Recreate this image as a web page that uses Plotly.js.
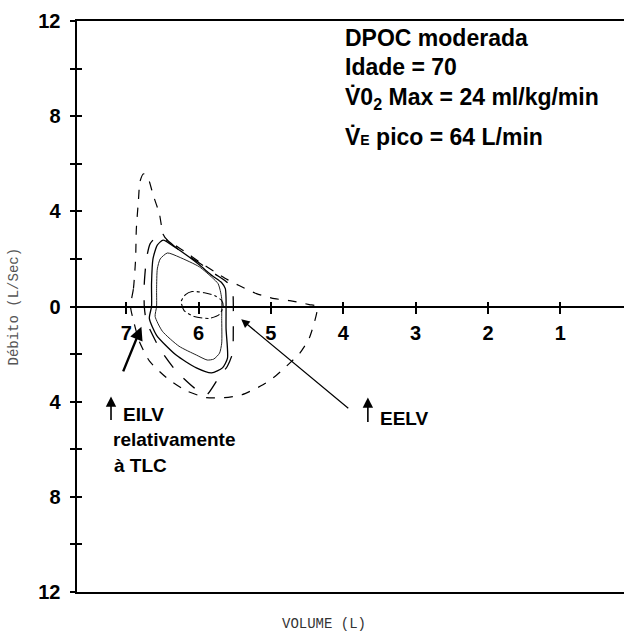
<!DOCTYPE html>
<html>
<head>
<meta charset="utf-8">
<script src="https://cdn.plot.ly/plotly-3.0.1.min.js"></script>
<style>html,body{margin:0;padding:0;background:#fff;}</style>
</head>
<body>
<div id="chart" style="width:624px;height:634px;"></div>
<script>
// ---- data (volume in L, flow in L/s; positive = expiration) ----
const envelopeVol  = [6.94,6.90,6.87,6.86,6.83,6.81,6.76,6.69,6.63,6.54,6.49,6.43,6.20,5.99,5.78,5.60,5.44,5.20,4.95,4.74,4.47,4.36,
                      4.47,4.60,4.74,4.92,5.11,5.40,5.64,5.89,6.17,6.44,6.68,6.82,6.89,6.94];
const envelopeFlow = [0,0.75,2.0,3.25,4.5,5.25,5.58,5.33,4.71,3.88,3.04,2.79,2.33,1.88,1.46,1.13,0.88,0.54,0.33,0.25,0.08,0,
                      -1.33,-1.96,-2.38,-2.88,-3.29,-3.71,-3.83,-3.83,-3.54,-3.0,-2.29,-1.46,-0.71,0];

const peakVol  = [6.75,6.75,6.72,6.67,6.58,6.46,6.27,5.99,5.78,5.60,5.53,5.52,5.52,5.53,5.60,5.74,5.89,6.06,6.31,6.54,6.72,6.75];
const peakFlow = [0,0.96,2.0,2.63,2.92,2.83,2.38,1.83,1.38,1.0,0.67,0.13,-0.92,-1.96,-2.5,-3.08,-3.71,-3.42,-2.71,-1.75,-0.63,0];

const midVol  = [6.65,6.65,6.63,6.57,6.49,6.33,6.13,5.99,5.81,5.68,5.63,5.62,5.62,5.60,5.67,5.82,6.03,6.31,6.58,6.68,6.65];
const midFlow = [0,0.96,2.0,2.58,2.79,2.5,2.08,1.75,1.29,1.0,0.75,0.33,-0.92,-2.17,-2.58,-2.79,-2.58,-2.04,-1.21,-0.5,0];

const lowVol  = [6.58,6.58,6.57,6.53,6.43,6.27,5.99,5.81,5.73,5.70,5.68,5.68,5.68,5.71,5.79,5.88,6.03,6.27,6.50,6.60,6.58];
const lowFlow = [0,0.75,1.58,2.0,2.25,2.08,1.67,1.21,0.96,0.67,0.33,-0.5,-1.54,-1.96,-2.21,-2.25,-2.04,-1.67,-1.04,-0.42,0];

const restVol  = [6.24,6.18,6.09,5.92,5.78,5.68,5.66,5.71,5.85,6.06,6.20,6.24];
const restFlow = [0.21,0.5,0.63,0.58,0.46,0.25,0,-0.33,-0.5,-0.42,-0.17,0.21];

const xTickVals = [7,6,5,4,3,2,1];
const xTickText = ['7','6','5','4','3','2','1'];
const yTickVals = [-12,-10,-8,-6,-4,-2,0,2,4,6,8,10,12];
const yTickText = ['12',' ','8',' ','4',' ','0',' ','4',' ','8',' ','12'];

const infoLines = ['DPOC moderada','Idade = 70',
  'V\u03070<sub>2</sub> Max = 24 ml/kg/min',
  'V\u0307<span style="font-size:14px">E</span> pico = 64 L/min'];
const infoY = [11.3,10.08,8.74,7.14];

// ---- styling ----
const SANS = 'Liberation Sans, Arial, Helvetica, sans-serif';
const MONO = 'Liberation Mono, Courier New, monospace';
const X_RANGE = [7.68,0.12];
const Y_RANGE = [-12,12];

function loop(x,y,dash,w,color){
  return {type:'scatter',mode:'lines',x:x,y:y,xaxis:'x',yaxis:'y',
    line:{color:color||'#000',width:w,dash:dash,shape:'spline',smoothing:0.6},hoverinfo:'skip'};
}
const traces = [
  loop(envelopeVol,envelopeFlow,'dash',1.2),
  loop(peakVol,peakFlow,'longdash',1.3),
  loop(midVol,midFlow,'solid',1.3),
  loop(lowVol,lowFlow,'solid',1.0,'#222'),
  loop(restVol,restFlow,'dashdot',1.1),
  {type:'scatter',x:[],y:[],xaxis:'x2',yaxis:'y',hoverinfo:'skip'},
  {type:'scatter',x:[],y:[],xaxis:'x3',yaxis:'y2',hoverinfo:'skip'}
];

const annotations = [];
infoLines.forEach((t,i)=>annotations.push({x:4.0,y:infoY[i],xref:'x',yref:'y',text:t,showarrow:false,
  xanchor:'left',yanchor:'middle',font:{family:SANS,size:23,color:'#000',weight:700}}));

const lbl = {family:SANS,size:19,color:'#000',weight:700};
annotations.push({x:7.07,y:-4.54,xref:'x',yref:'y',text:'EILV',showarrow:false,xanchor:'left',yanchor:'middle',font:lbl});
annotations.push({x:7.21,y:-5.59,xref:'x',yref:'y',text:'relativamente',showarrow:false,xanchor:'left',yanchor:'middle',font:lbl});
annotations.push({x:7.19,y:-6.68,xref:'x',yref:'y',text:'à TLC',showarrow:false,xanchor:'left',yanchor:'middle',font:lbl});
annotations.push({x:3.52,y:-4.71,xref:'x',yref:'y',text:'EELV',showarrow:false,xanchor:'left',yanchor:'middle',font:lbl});

// arrows
annotations.push({x:6.79,y:-0.85,ax:7.05,ay:-2.79,xref:'x',yref:'y',axref:'x',ayref:'y',text:'',showarrow:true,
  arrowhead:2,arrowsize:1.1,arrowwidth:2.4,arrowcolor:'#000'});
annotations.push({x:5.41,y:-0.54,ax:3.91,ay:-4.33,xref:'x',yref:'y',axref:'x',ayref:'y',text:'',showarrow:true,
  arrowhead:2,arrowsize:1.4,arrowwidth:1.2,arrowcolor:'#000'});
annotations.push({x:7.21,y:-3.78,ax:7.21,ay:-4.83,xref:'x',yref:'y',axref:'x',ayref:'y',text:'',showarrow:true,
  arrowhead:2,arrowsize:1.3,arrowwidth:1.6,arrowcolor:'#000'});
annotations.push({x:3.66,y:-3.82,ax:3.66,ay:-4.92,xref:'x',yref:'y',axref:'x',ayref:'y',text:'',showarrow:true,
  arrowhead:2,arrowsize:1.3,arrowwidth:1.6,arrowcolor:'#000'});

// axis titles
annotations.push({x:-0.117,y:0.5,xref:'paper',yref:'paper',text:'Débito (L/Sec)',textangle:-90,showarrow:false,
  xanchor:'center',yanchor:'middle',font:{family:MONO,size:14,color:'#555'}});
annotations.push({x:0.4516,y:-0.056,xref:'paper',yref:'paper',text:'VOLUME (L)',showarrow:false,
  xanchor:'center',yanchor:'middle',font:{family:MONO,size:14,color:'#333'}});

const tickFont = {family:SANS,size:20,color:'#000',weight:700};
const layout = {
  width:624,height:634,
  margin:{l:77,r:0,t:21,b:42,pad:0},
  paper_bgcolor:'#fff',plot_bgcolor:'#fff',showlegend:false,
  xaxis:{range:X_RANGE,anchor:'free',position:0.5,showline:true,linewidth:2.5,linecolor:'#000',
    ticks:'outside',ticklen:6,tickwidth:2,tickcolor:'#000',tickvals:xTickVals,ticktext:xTickText,
    tickfont:tickFont,ticklabelstandoff:2,showgrid:false,zeroline:false,fixedrange:true},
  xaxis2:{range:X_RANGE,overlaying:'x',anchor:'y',side:'bottom',showline:true,mirror:true,linewidth:2,linecolor:'#000',
    ticks:'',showticklabels:false,showgrid:false,zeroline:false},
  xaxis3:{range:X_RANGE,overlaying:'x',anchor:'free',position:0.5,side:'bottom',showline:false,
    ticks:'inside',ticklen:5,tickwidth:2,tickcolor:'#000',tickvals:xTickVals,showticklabels:false,showgrid:false,zeroline:false},
  yaxis:{range:Y_RANGE,showline:true,linewidth:2.5,linecolor:'#000',ticks:'outside',ticklen:5,tickwidth:2,tickcolor:'#000',
    tickvals:yTickVals,ticktext:yTickText,tickfont:tickFont,ticklabelstandoff:5,showgrid:false,zeroline:false,fixedrange:true},
  yaxis2:{range:Y_RANGE,overlaying:'y',anchor:'x2',side:'left',showline:false,ticks:'inside',ticklen:5,tickwidth:2,
    tickcolor:'#000',tickvals:yTickVals,showticklabels:false,showgrid:false,zeroline:false},
  annotations:annotations
};
Plotly.newPlot('chart',traces,layout,{displayModeBar:false,staticPlot:true});
</script>
</body>
</html>
